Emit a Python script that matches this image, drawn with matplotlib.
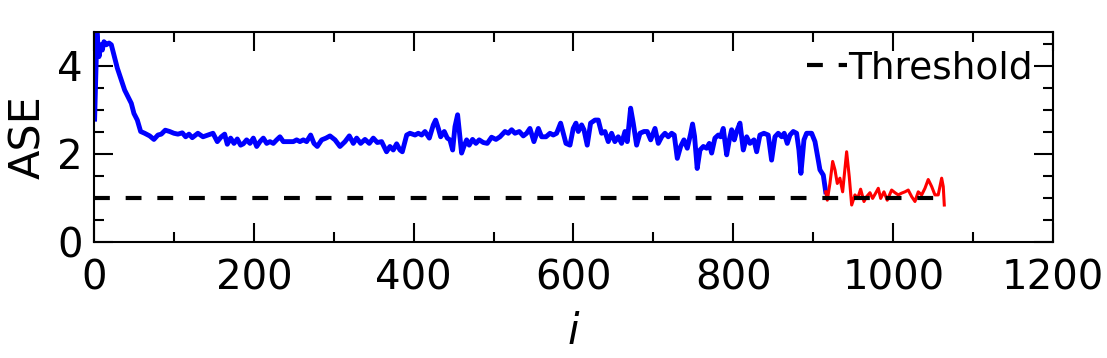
import numpy as np
import matplotlib.pyplot as plt
from matplotlib.ticker import MultipleLocator

# ASE per iteration (blue: before switch, red: after)
blue_i = [0.8, 3.7, 6.3, 8.3, 10.4, 12.5, 15.4, 18.8, 21.7, 25, 29.2, 34.2, 38.4, 42.5,
          46.7, 50, 54.2, 58.4, 63.4, 69.7, 75, 80, 84.2, 89.2, 94.7, 100, 105, 110.5,
          114.7, 118.9, 123, 130, 136.4, 142.6, 148.9, 154.3, 159.3, 163.5, 166.8, 171,
          175.2, 179.3, 183.5, 186.8, 191, 195.2, 199.4, 203.6, 207.7, 211.9, 216.1,
          220.2, 224.4, 228.6, 232.7, 236.9, 243.1, 249.4, 253.6, 257.7, 261.9, 266.1,
          271.1, 275.3, 279.4, 284.9, 290.3, 295.3, 301.6, 307.8, 314.1, 319.5, 324.5,
          328.7, 333.7, 339.1, 344.5, 349.5, 354.5, 359.9, 366.1, 370.3, 374.5, 378.7,
          382.9, 385.8, 391.3, 395.4, 401.7, 405.8, 410, 414.2, 419.6, 424.6, 427.5,
          430.9, 433.8, 438.3, 442.1, 445.4, 448.8, 451.7, 455, 457.9, 460, 462.9, 466.3,
          469.5, 473.7, 477.9, 482, 487.1, 492.1, 497.5, 503, 508, 514.3, 518.4, 522.6,
          526.8, 532.2, 537.2, 541.4, 545.5, 550.5, 556, 560.1, 565.6, 570.6, 574.7,
          578.9, 583.9, 587.2, 590.6, 595.6, 599.7, 603.1, 606, 610.2, 613.1, 617.2,
          621.4, 626.9, 631, 635.2, 639.4, 643.5, 647.7, 651.8, 656, 660.2, 664.4, 667.3,
          671.5, 674.8, 679, 683.2, 688.2, 692.3, 696.6, 702, 706.1, 710.4, 714.5, 718.6,
          722.9, 726.1, 729.9, 734.1, 738.2, 742.4, 746.5, 749, 751.5, 754.8, 758.3, 762.5,
          766.6, 769.9, 772.9, 777, 781.2, 784.2, 787.4, 791.7, 795, 797.9, 801.2, 804.2,
          808.3, 812.5, 816.7, 820.8, 825.8, 829.2, 833.3, 838.3, 843.7, 847.9, 852.1,
          856.2, 860.5, 863.7, 867.5, 870.9, 875, 879.2, 882.1, 884.6, 888.4, 891.7, 898,
          902.2, 904.5, 906.3, 908.4, 912.6, 915.6]
blue_ase = [2.79, 4.75, 4.21, 4.48, 4.36, 4.55, 4.48, 4.52, 4.48, 4.25, 3.95, 3.68, 3.45, 3.30,
            3.15, 2.92, 2.77, 2.51, 2.47, 2.41, 2.33, 2.43, 2.45, 2.54, 2.51, 2.47, 2.45, 2.48,
            2.39, 2.45, 2.37, 2.47, 2.39, 2.43, 2.47, 2.28, 2.39, 2.45, 2.22, 2.36,
            2.24, 2.34, 2.20, 2.23, 2.32, 2.24, 2.36, 2.17, 2.28, 2.36, 2.24,
            2.28, 2.24, 2.32, 2.39, 2.28, 2.28, 2.28, 2.32, 2.28, 2.32, 2.28,
            2.43, 2.24, 2.17, 2.32, 2.36, 2.41, 2.32, 2.17, 2.28, 2.41, 2.24,
            2.36, 2.24, 2.33, 2.24, 2.36, 2.26, 2.28, 2.05, 2.17, 2.09, 2.23,
            2.09, 2.05, 2.43, 2.47, 2.43, 2.47, 2.43, 2.51, 2.36, 2.66, 2.77,
            2.58, 2.39, 2.51, 2.36, 2.32, 2.09, 2.62, 2.89, 2.39, 2.02, 2.17, 2.32,
            2.20, 2.33, 2.24, 2.32, 2.26, 2.24, 2.38, 2.33, 2.39, 2.51, 2.47, 2.55,
            2.47, 2.51, 2.41, 2.47, 2.58, 2.28, 2.58, 2.39, 2.39, 2.47, 2.43,
            2.47, 2.70, 2.47, 2.24, 2.20, 2.58, 2.70, 2.51, 2.66, 2.55, 2.20,
            2.70, 2.77, 2.77, 2.47, 2.51, 2.28, 2.47, 2.28, 2.39, 2.24, 2.51, 2.28,
            3.04, 2.70, 2.20, 2.47, 2.51, 2.51, 2.32, 2.58, 2.24, 2.39, 2.47, 2.39,
            2.47, 2.43, 1.90, 2.17, 2.32, 2.13, 2.45, 2.68, 2.40, 1.67, 2.09, 2.17,
            2.13, 2.24, 2.02, 2.36, 2.43, 2.39, 2.58, 1.98, 2.32, 2.55, 2.32, 2.51,
            2.70, 2.09, 2.39, 2.24, 2.32, 2.05, 2.43, 2.47, 2.43, 1.86, 2.39,
            2.47, 2.39, 2.47, 2.24, 2.43, 2.51, 2.47, 2.09, 1.56, 2.32, 2.47, 2.47,
            2.28, 2.05, 1.86, 1.64, 1.52, 1.14]

red_i = [915.6, 917.6, 920.9, 924.3, 927.2, 930.1, 933.4, 936.8, 941.8, 945.1, 948.1, 952.2,
         955.6, 959.3, 963.5, 966.8, 971, 974.3, 978.1, 981.4, 984.4, 988.5, 992.6, 998.1,
         1002.3, 1006.4, 1010.6, 1014.8, 1018.9, 1023.2, 1027.3, 1031.4, 1035.7, 1039.8,
         1043.9, 1048.2, 1052.3, 1056.4, 1060.7, 1062.7, 1064]
red_ase = [1.14, 0.95, 1.33, 1.83, 1.64, 1.33, 1.45, 1.14, 2.05, 1.48, 0.84, 1.07,
           0.99, 1.20, 0.92, 1.03, 1.12, 0.99, 1.11, 1.22, 0.99, 1.14, 0.95, 1.18,
           1.12, 1.07, 1.11, 1.14, 1.18, 1.03, 0.92, 1.14, 1.07, 1.22,
           1.42, 1.26, 1.07, 1.07, 1.45, 1.26, 0.84]

threshold = 1.0
thr_range = [0, 1064]

fig = plt.figure(figsize=(11.07, 3.58), dpi=100)
ax = fig.add_axes([0.0849, 0.324, 0.8663, 0.5866])

ax.plot(blue_i, blue_ase, color='blue', lw=3.5, solid_joinstyle='round')
ax.plot(red_i, red_ase, color='red', lw=2.2, solid_joinstyle='round')
ax.plot(thr_range, [threshold, threshold], color='black', lw=3.0,
        dashes=(3.8, 3.8), label='Threshold')

ax.set_xlim(0, 1200)
ax.set_ylim(0, 4.77)
ax.xaxis.set_major_locator(MultipleLocator(200))
ax.xaxis.set_minor_locator(MultipleLocator(100))
ax.yaxis.set_major_locator(MultipleLocator(2))
ax.yaxis.set_minor_locator(MultipleLocator(0.5))
ax.tick_params(which='both', direction='in', top=True, right=True, width=1.5, labelsize=29)
ax.tick_params(which='major', length=14, pad=12)
ax.tick_params(which='minor', length=7)
ax.tick_params(axis='y', which='major', pad=8)
for s in ax.spines.values():
    s.set_linewidth(1.5)

ax.set_xlabel('$i$', fontsize=30, labelpad=9)
ax.set_ylabel('ASE', fontsize=31, labelpad=6)

ax.legend(loc='upper right', bbox_to_anchor=(0.991, 0.965), frameon=False, fontsize=27,
          handlelength=1.05, handletextpad=0.05, borderaxespad=0.2, borderpad=0.1)

fig.savefig('out.png', dpi=100)
